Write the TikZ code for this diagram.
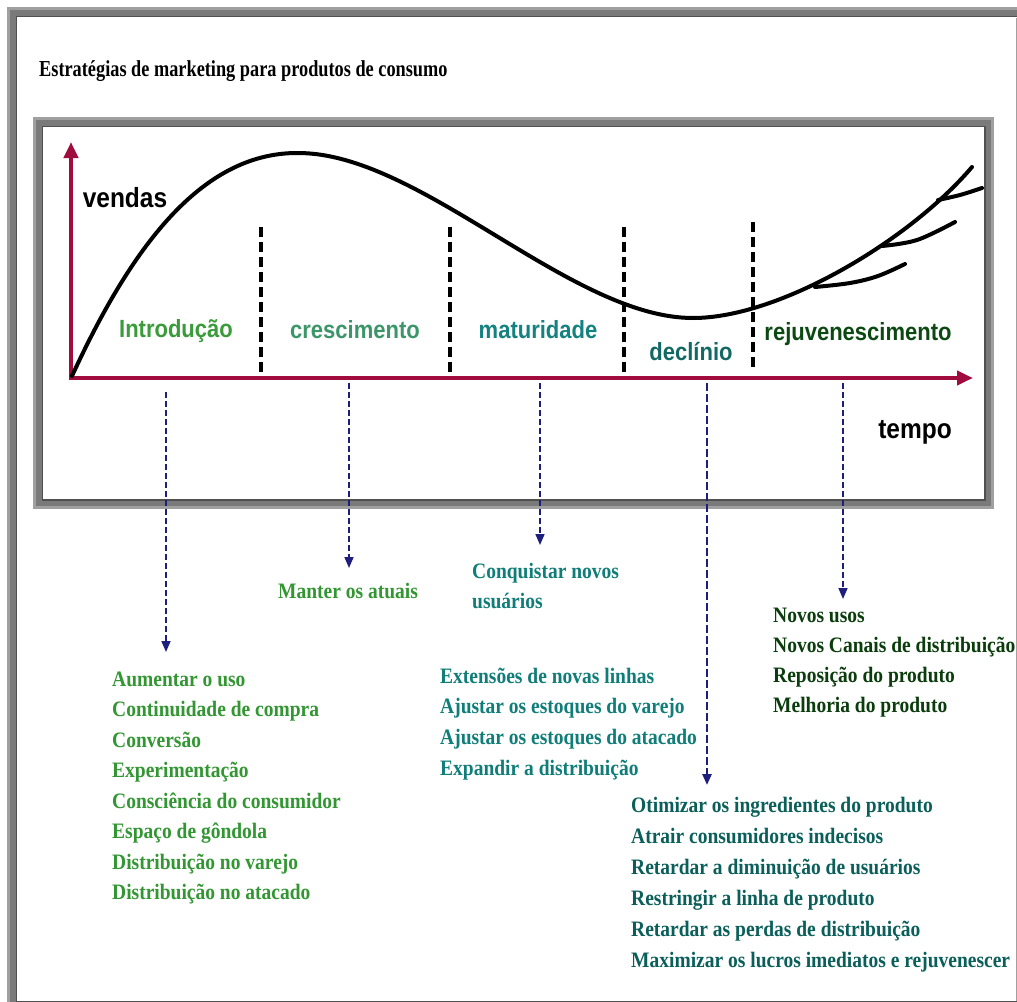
\documentclass[tikz,border=0pt]{standalone}
\usepackage{fontspec}
\setmainfont{Liberation Serif}
\setsansfont{Liberation Sans}
\usetikzlibrary{arrows.meta}

\definecolor{axisred}{RGB}{160,12,62}
\definecolor{bandlight}{RGB}{160,160,160}
\definecolor{bandmid}{RGB}{122,122,122}
\definecolor{banddark}{RGB}{80,80,80}
\definecolor{guidenavy}{RGB}{30,30,125}
\definecolor{introgreen}{RGB}{58,155,58}
\definecolor{growgreen}{RGB}{60,150,105}
\definecolor{matteal}{RGB}{20,130,128}
\definecolor{decteal}{RGB}{18,105,100}
\definecolor{rejgreen}{RGB}{12,72,18}
\definecolor{listgreen}{RGB}{50,150,50}
\definecolor{listteal}{RGB}{15,125,120}
\definecolor{listdecl}{RGB}{10,95,90}
\definecolor{listrej}{RGB}{10,60,12}

% slightly tall lettering
\newcommand\vstretch[1]{\scalebox{1}[1.13]{#1}}

\tikzset{
  stage/.style={anchor=base, inner sep=0pt, font=\sffamily\bfseries\fontsize{22}{24}\selectfont},
  axislabel/.style={anchor=base, inner sep=0pt, text=black, font=\sffamily\bfseries\fontsize{24.5}{26}\selectfont},
  entry/.style={anchor=base west, inner sep=0pt, font=\bfseries\fontsize{19.5}{21}\selectfont},
  salescurve/.style={line width=4pt, line cap=round, line join=round},
  axisline/.style={draw=axisred, line width=4.5pt, -{Triangle[length=16pt,width=14pt]}},
  phaseline/.style={line width=3.2pt, dash pattern=on 10pt off 5pt},
  guide/.style={draw=guidenavy, line width=1.6pt, dash pattern=on 6pt off 3pt, -{Triangle[length=11pt,width=9pt]}},
  guidebold/.style={guide, line width=2.4pt, dash pattern=on 8pt off 3pt},
}

\begin{document}
\begin{tikzpicture}[x=1pt, y=-1pt]
\useasboundingbox (0,0) rectangle (1017,1001);
\fill[white] (0,0) rectangle (1017,1001);

% outer bevelled frame (runs past the right and bottom edges)
\draw[bandlight, line width=10pt] (12,12) rectangle (1027,1006);
\draw[bandmid, line width=6pt] (13,13) rectangle (1026,1005);
\draw[banddark, line width=1.5pt] (16.25,16.25) rectangle (1022.75,1001.75);
\draw[bandlight, line width=1pt] (1016.5,18) -- (1016.5,1001);

% chart frame
\draw[bandlight, line width=10pt] (38,122) rectangle (989,504);
\draw[bandmid, line width=6pt] (39,123) rectangle (988,503);
\draw[banddark, line width=1.5pt] (42.25,126.25) rectangle (984.75,499.75);

% title
\node[anchor=base west, inner sep=0pt, font=\bfseries\fontsize{18.3}{20}\selectfont] (title)
  at (39,76) {\scalebox{1}[1.25]{Estratégias de marketing para produtos de consumo}};

% axes
\coordinate (O) at (71,378);
\coordinate (ytop) at (71,142);
\coordinate (xend) at (973,378);
\draw[axisline] (O) -- (ytop);
\draw[axisline] (69,378) -- (xend);

% phase separators
\coordinate (d1t) at (261,227); \coordinate (d1b) at (261,376);
\coordinate (d2t) at (450,227); \coordinate (d2b) at (450,376);
\coordinate (d3t) at (624,227); \coordinate (d3b) at (624,376);
\coordinate (d4t) at (753,222); \coordinate (d4b) at (753,368);
\draw[phaseline] (d1t) -- (d1b);
\draw[phaseline] (d2t) -- (d2b);
\draw[phaseline] (d3t) -- (d3b);
\draw[phaseline] (d4t) -- (d4b);

% sales curve: rise to the peak, fall to the trough, then the renewed rise
\coordinate (cStart) at (72,376);
\coordinate (cPeak) at (297,153);
\coordinate (cLow) at (693,318);
\coordinate (cEnd) at (972,167);
\draw[salescurve] (cStart) .. controls (130,250) and (200,153) .. (cPeak)
  .. controls (420,152) and (570,318) .. (cLow)
  .. controls (780,318) and (910,240) .. (cEnd);
% rejuvenation branches
\draw[salescurve] plot[smooth, tension=0.6] coordinates {(815,287) (850,283) (878,276) (905,264)};
\draw[salescurve] plot[smooth, tension=0.6] coordinates {(882,246) (917,240) (955,222)};
\draw[salescurve] plot[smooth, tension=0.6] coordinates {(938,200) (960,195) (982,188)};

% axis labels
\node[axislabel] (vendas) at (125,207) {\vstretch{vendas}};
\node[axislabel] (tempo) at (915,438) {\vstretch{tempo}};

% stage labels
\node[stage, text=introgreen] (sIntro) at (176,337) {\vstretch{Introdução}};
\node[stage, text=growgreen] (sGrow) at (355,338) {\vstretch{crescimento}};
\node[stage, text=matteal] (sMat) at (538,338) {\vstretch{maturidade}};
\node[stage, text=decteal] (sDec) at (691,360) {\vstretch{declínio}};
\node[stage, text=rejgreen] (sRej) at (858,340) {\vstretch{rejuvenescimento}};

% strategy lists
\foreach \t [count=\i from 0] in {Aumentar o uso, Continuidade de compra, Conversão,
    Experimentação, Consciência do consumidor, Espaço de gôndola,
    Distribuição no varejo, Distribuição no atacado}
  \node[entry, text=listgreen] (intro\i) at (112,686+30.5*\i) {\vstretch{\t}};

\node[entry, text=listgreen] (grow0) at (278,598) {\vstretch{Manter os atuais}};

\node[entry, text=listteal] (mat0) at (472,578) {\vstretch{Conquistar novos}};
\node[entry, text=listteal] (mat1) at (472,608) {\vstretch{usuários}};

\foreach \t [count=\i from 0] in {Extensões de novas linhas, Ajustar os estoques do varejo,
    Ajustar os estoques do atacado, Expandir a distribuição}
  \node[entry, text=listteal] (ext\i) at (440,683+30.7*\i) {\vstretch{\t}};

\foreach \t [count=\i from 0] in {Otimizar os ingredientes do produto, Atrair consumidores indecisos,
    Retardar a diminuição de usuários, Restringir a linha de produto,
    Retardar as perdas de distribuição, Maximizar os lucros imediatos e rejuvenescer}
  \node[entry, text=listdecl] (dec\i) at (631,812+31*\i) {\vstretch{\t}};

\foreach \t [count=\i from 0] in {Novos usos, Novos Canais de distribuição,
    Reposição do produto, Melhoria do produto}
  \node[entry, text=listrej] (rej\i) at (773,622+30*\i) {\vstretch{\t}};

% guides from each stage down to its strategies
\coordinate (g1s) at (166,392); \coordinate (g1e) at (166,652);
\coordinate (g2s) at (349,383); \coordinate (g2e) at (349,568);
\coordinate (g3s) at (540,383); \coordinate (g3e) at (540,545);
\coordinate (g4s) at (707,383); \coordinate (g4e) at (707,785);
\coordinate (g5s) at (843,383); \coordinate (g5e) at (843,599);
\draw[guide] (g1s) -- (g1e);
\draw[guide] (g2s) -- (g2e);
\draw[guide] (g3s) -- (g3e);
\draw[guidebold] (g4s) -- (g4e);
\draw[guide] (g5s) -- (g5e);
\end{tikzpicture}
\end{document}
